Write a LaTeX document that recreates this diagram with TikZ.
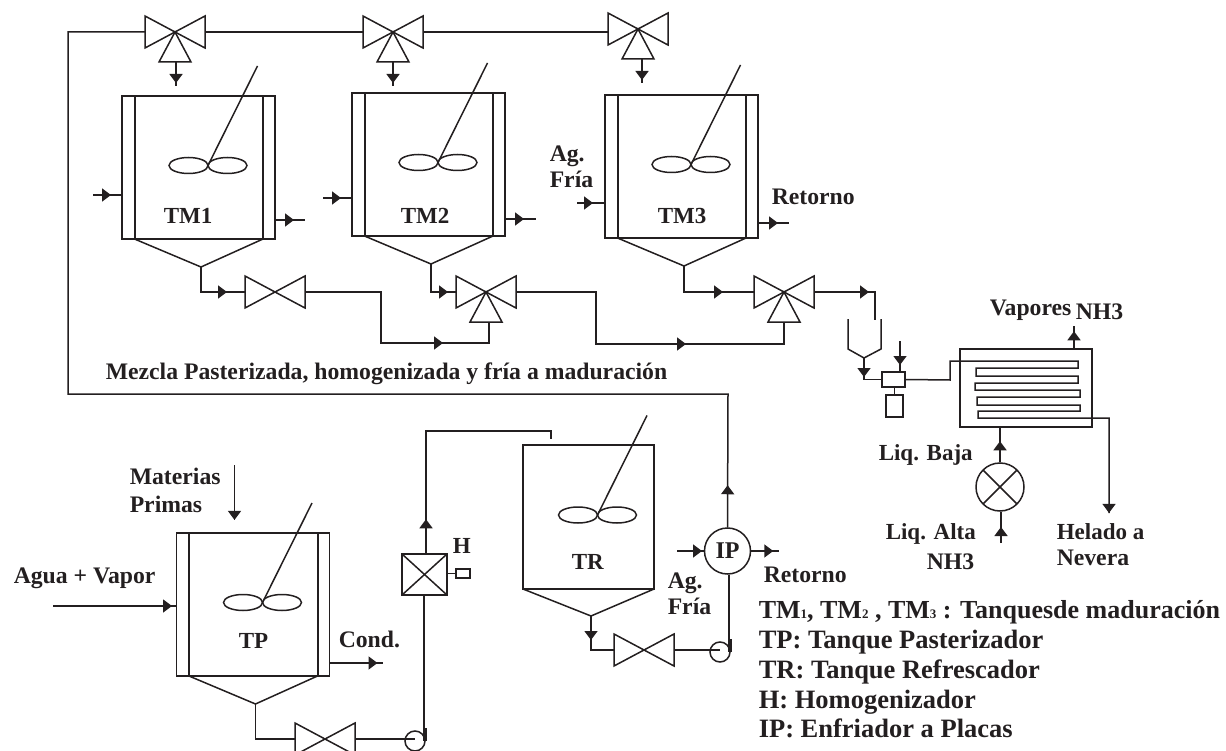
\documentclass[tikz,border=0pt]{standalone}
\usepackage{fontspec}
\setmainfont{Liberation Serif}
\usepackage{xcolor}
\definecolor{negro}{HTML}{231F20}
\usetikzlibrary{arrows.meta,calc,decorations.markings}
\newcommand{\nro}[1]{{\fontsize{13}{13}\selectfont #1}}

\begin{document}
\begin{tikzpicture}[
  x=1pt,y=-1pt,color=negro,line width=1.5pt,
  tubo/.style={line width=1.5pt},
  flecha/.style={postaction={decorate},decoration={markings,mark=at position #1 with {\arrow{Triangle[length=9pt,width=13pt]}}}},
  rotulo/.style={anchor=base west,inner sep=0pt,yshift=-1.5pt,font=\bfseries\fontsize{23.7}{26}\selectfont},
  nombre/.style={rotulo,font=\bfseries\fontsize{23}{26}\selectfont},
  leyenda/.style={rotulo,font=\bfseries\fontsize{26.5}{28}\selectfont},
  equipo/.style={draw,inner sep=0pt,font=\bfseries\fontsize{24}{26}\selectfont},
  cruz/.style={path picture={
    \draw (path picture bounding box.north west) -- (path picture bounding box.south east);
    \draw (path picture bounding box.north east) -- (path picture bounding box.south west);}},
  valvula/.pic={
    \draw (-30,-16) -- (30,16) -- (30,-16) -- (-30,16) -- cycle;
    \coordinate (-izq) at (-30,0);
    \coordinate (-der) at (30,0);},
  valvulatres/.pic={
    \draw (-30,-16) -- (30,16) -- (30,-16) -- (-30,16) -- cycle;
    \draw (0,0) -- (16,30) -- (-16,30) -- cycle;
    \coordinate (-izq) at (-30,0);
    \coordinate (-der) at (30,0);
    \coordinate (-base) at (0,30);},
  agitador/.pic={
    \draw (0,0) -- (49.5,-99.5);
    \draw (-19.5,0) ellipse [x radius=19.5pt,y radius=8pt];
    \draw (19.5,0) ellipse [x radius=19.5pt,y radius=8pt];},
  tanque/.pic={
    \draw (0,0) rectangle (153,143);
    \draw[line width=2pt] (12.5,0) -- (12.5,143);
    \draw[line width=2pt] (141,0) -- (141,143);
    \draw (12.5,143) -- (79,171) -- (141,143);
    \pic at (86,69.5) {agitador};
    \coordinate (-izq) at (0,0);
    \coordinate (-der) at (153,0);
    \coordinate (-punta) at (79,171);},
  bomba/.pic={
    \draw (0,0) circle [radius=10pt];
    \draw (11,-13) -- (11,0);
    \coordinate (-ent) at (0,0);
    \coordinate (-sal) at (9,0);}
]
\clip (0,0) rectangle (1226,751);

% tanques de maduracion
\pic (tm1) at (122,96) {tanque};
\pic (tm2) at (352,93) {tanque};
\pic (tm3) at (605,95) {tanque};
\node[nombre] (ltm1) at (163,222) {TM1};
\node[nombre] (ltm2) at (400,222) {TM2};
\node[nombre] (ltm3) at (657,222) {TM3};

% valvulas de arriba y de abajo
\pic (va1) at (175,32) {valvulatres};
\pic (va2) at (393,32) {valvulatres};
\pic (va3) at (638,29) {valvulatres};
\pic (vb1) at (275,292) {valvula};
\pic (vb2) at (486,292) {valvulatres};
\pic (vb3) at (784,292) {valvulatres};

\coordinate (ea1) at (176,86);
\coordinate (ea2) at (393,86);
\coordinate (ea3) at (642,83);
\draw[tubo,flecha=-3pt] (va1-base -| ea1) -- (ea1);
\draw[tubo,flecha=-3pt] (va2-base -| ea2) -- (ea2);
\draw[tubo,flecha=-3pt] (va3-base -| ea3) -- (ea3);
\draw[tubo] (va1-der) -- (va2-izq);
\draw[tubo] (va2-der) -- (va3-izq |- va2-der);

% agua de los tanques
\coordinate (e1) at (93,195);
\coordinate (e2) at (323,198);
\coordinate (e3) at (577,203);
\coordinate (s1) at (305,220);
\coordinate (s2) at (536,219);
\coordinate (s3) at (789,223);
\draw[tubo,flecha=18pt] (e1) -- (e1 -| tm1-izq);
\draw[tubo,flecha=18pt] (e2) -- (e2 -| tm2-izq);
\draw[tubo,flecha=16pt] (e3) -- (e3 -| tm3-izq);
\draw[tubo,flecha=19pt] (s1 -| tm1-der) -- (s1);
\draw[tubo,flecha=19pt] (s2 -| tm2-der) -- (s2);
\draw[tubo,flecha=20pt] (s3 -| tm3-der) -- (s3);

% salida hacia el congelador
\coordinate (c1) at (381,343);
\coordinate (c2) at (596,344);
\coordinate (c3) at (875,320);
\draw[tubo,flecha=51pt] (tm1-punta) |- (vb1-izq);
\draw[tubo,flecha=45pt] (tm2-punta) |- (vb2-izq);
\draw[tubo,flecha=65pt] (tm3-punta) |- (vb3-izq);
\draw[tubo,flecha=189pt] (vb1-der) -| (c1) -| ([xshift=3pt]vb2-base);
\draw[tubo,flecha=222pt] (vb2-der) -| (c2) -| (vb3-base);
\draw[tubo,flecha=55pt] (vb3-der) -| (c3);

% congelador
\draw (848,319) -- (848,349) -- (864,358) -- (881,349) -- (881,319);
\coordinate (tolva) at (864,358);
\node[equipo,minimum width=23pt,minimum height=15pt] (mezc) at (893.5,379.5) {};
\node[equipo,minimum width=17pt,minimum height=22pt] (depo) at (894.5,406) {};
\node[equipo,minimum width=132pt,minimum height=78pt] (camb) at (1026,388) {};
\node[equipo,cruz,circle,minimum size=48pt] (valx) at (1000,487) {};
\coordinate (ent) at (900,341);
\coordinate (vap) at (1074,326);
\coordinate (alta) at (1001,543);
\coordinate (helado) at (1109,513);
\draw[tubo,flecha=19pt] (tolva) |- (mezc.west);
\draw[tubo] (mezc.south -| depo.north) -- (depo.north);
\draw[tubo,flecha=24pt] (ent) -- (ent |- mezc.north);
\draw[tubo,flecha=17pt] (vap |- camb.north) -- (vap);
\draw[tubo,flecha=21pt] (valx.north) -- (valx.north |- camb.south);
\draw[tubo,flecha=16pt] (alta) -- (alta |- valx.south);
\draw[tubo,flecha=-0.1pt] (mezc.east) -- (950,380) -- (950,361) -- (1078,361) -- (1078,368) -- (976,368) -- (976,376) -- (1078,376) -- (1078,383) -- (975,383) -- (975,390) -- (1080,390) -- (1080,397) -- (977,397) -- (977,405) -- (1080,405) -- (1080,411) -- (978,411) -- (978,418) -- (1109,418) -- (helado);

% linea de mezcla fria
\node[equipo,circle,minimum size=46pt] (ip) at (727.5,551) {IP};
\coordinate (c4) at (728,394);
\coordinate (c5) at (68,394);
\draw[tubo,flecha=42pt] (ip.north) -- (c4) -- (c5) |- (va1-izq);
\coordinate (ea4) at (677,551);
\coordinate (ea5) at (779,551);
\draw[tubo,flecha=25pt] (ea4) -- (ip.west);
\draw[tubo,flecha=22pt] (ip.east) -- (ea5);

% tanque pasterizador
\pic (tp) at (176.5,533) {tanque};
\coordinate (e4) at (53,606);
\coordinate (s4) at (383,663);
\coordinate (mp) at (234.5,465);
\draw[tubo,flecha=119pt] (e4) -- (e4 -| tp-izq);
\draw[tubo,flecha=48pt] (s4 -| tp-der) -- (s4);
\draw[tubo,flecha=-0.1pt] (mp) -- ($(mp)+(0,55)$);
\pic (vb4) at (325,739) {valvula};
\pic (bo1) at (415,741) {bomba};
\draw[tubo] (tp-punta) |- (vb4-izq);
\draw[tubo] (vb4-der) -- (vb4-der -| bo1-ent);

% homogenizador
\node[equipo,cruz,minimum width=45pt,minimum height=41pt] (homo) at (424.5,574.5) {};
\node[equipo,minimum width=14pt,minimum height=9pt] (moto) at (463,573.5) {};
\draw[tubo] (homo.east |- moto.west) -- (moto.west);
\draw[tubo] (bo1-sal) -- (bo1-sal |- homo.south);
\coordinate (c6) at (426,431);
\coordinate (c7) at (551,439);
\draw[tubo,flecha=34pt] ([xshift=1.5pt]homo.north) -- (c6) -| (c7);

% tanque refrescador
\draw (523,445) rectangle (654,589);
\draw (523,589) -- (591,616) -- (654,589);
\coordinate (tr-punta) at (591,616);
\pic (tr-agit) at (597.5,515) {agitador};
\pic (vb5) at (644,650) {valvula};
\pic (bo2) at (720,652) {bomba};
\draw[tubo,flecha=24pt] (tr-punta) |- (vb5-izq);
\draw[tubo] (vb5-der) -- (vb5-der -| bo2-ent);
\draw[tubo] (bo2-sal) -- (bo2-sal |- ip.south);

% textos
\node[nombre] (ltp) at (238,647) {TP};
\node[nombre] (ltr) at (571,568) {TR};
\node[nombre] (lh) at (452,552) {H};
\node[rotulo] (lag1) at (549,160) {Ag.};
\node[rotulo] (lfr1) at (549,186) {Fría};
\node[rotulo] (lre1) at (771,203) {Retorno};
\node[rotulo] (lmez) at (105,378) {Mezcla Pasterizada, homogenizada y fría a maduración};
\node[rotulo] (lvap) at (989,314) {Vapores};
\node[rotulo] (lnh1) at (1075,318) {NH3};
\node[nombre] (lbaj) at (878,459) {Liq. Baja};
\node[nombre] (lalt) at (885,538) {Liq. Alta};
\node[rotulo] (lnh2) at (926,568) {NH3};
\node[nombre] (lhel) at (1056,538) {Helado a};
\node[rotulo] (lnev) at (1056,564) {Nevera};
\node[rotulo] (lmat) at (129,483) {Materias};
\node[rotulo] (lpri) at (129,511) {Primas};
\node[rotulo] (lagu) at (13,582) {Agua + Vapor};
\node[rotulo] (lcon) at (338,646) {Cond.};
\node[rotulo] (lag2) at (667,587) {Ag.};
\node[rotulo] (lfr2) at (667,613) {Fría};
\node[rotulo] (lre2) at (763,581) {Retorno};
\node[leyenda,font=\bfseries\fontsize{26}{28}\selectfont] (ley1) at (758,617) {TM\nro{1}, TM\nro{2} , TM\nro{3} : Tanquesde maduración};
\node[leyenda] (ley2) at (758,647) {TP: Tanque Pasterizador};
\node[leyenda] (ley3) at (758,677) {TR: Tanque Refrescador};
\node[leyenda] (ley4) at (758,707) {H: Homogenizador};
\node[leyenda] (ley5) at (758,736) {IP: Enfriador a Placas};
\end{tikzpicture}
\end{document}
